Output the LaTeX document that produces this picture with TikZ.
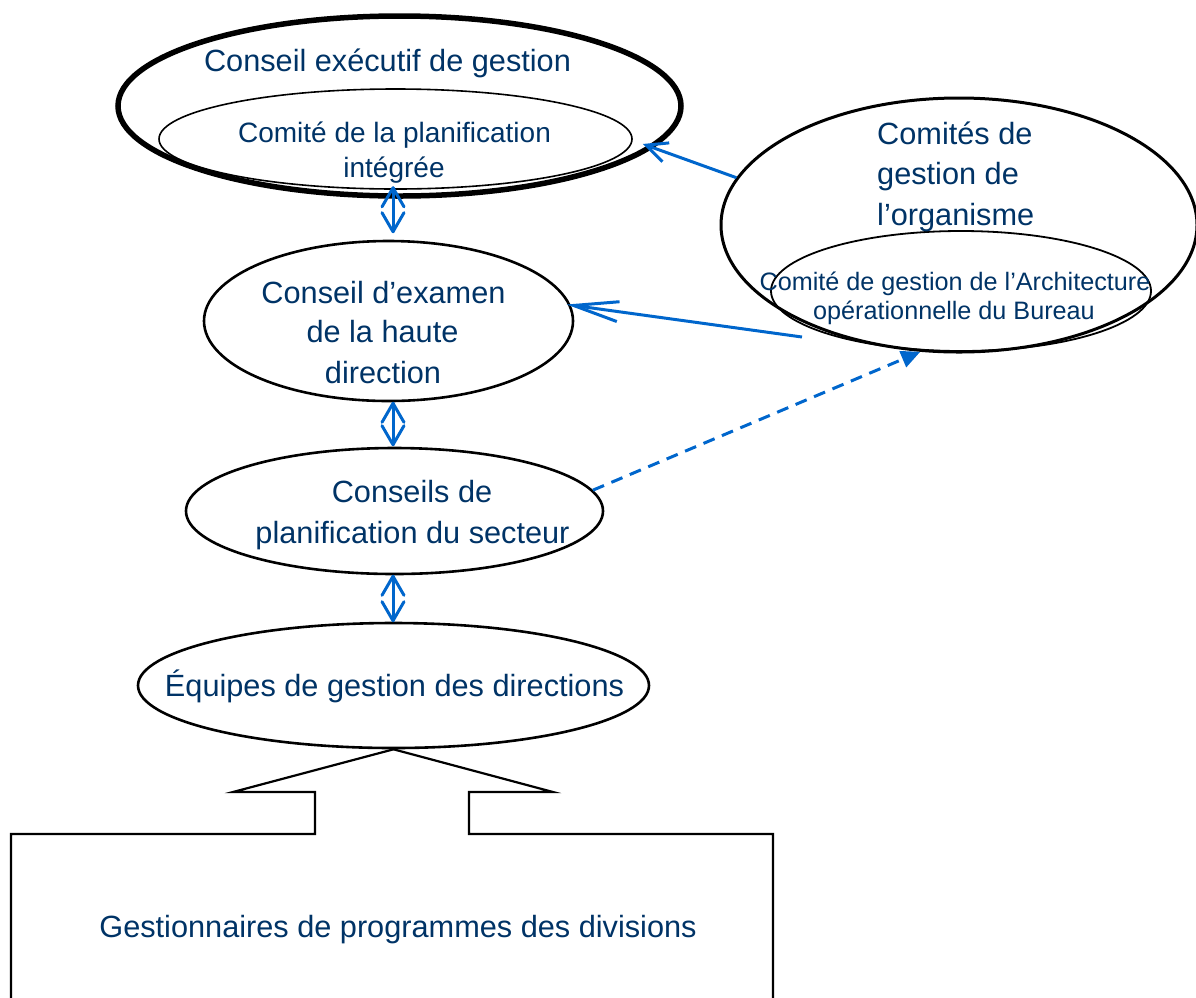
\documentclass[tikz,border=0pt]{standalone}
\usepackage{fontspec}
\setmainfont{Liberation Sans}
\usetikzlibrary{shapes.geometric,arrows.meta}
\definecolor{navy}{HTML}{003366}
\definecolor{linkblue}{HTML}{0066CC}
\tikzset{
  ell/.style={draw=black, ellipse, inner sep=0pt, line width=2.6pt},
  lbl/.style={text=navy, inner sep=0pt, anchor=base, font=\fontsize{30.7}{37}\selectfont},
  lblmid/.style={lbl, font=\fontsize{28}{34}\selectfont},
  lblsmall/.style={lbl, font=\fontsize{25.2}{30}\selectfont},
  dbl/.style={draw=linkblue, line width=3pt, line cap=round, line join=round},
  link/.style={draw=linkblue, line width=3pt},
}
\begin{document}
\begin{tikzpicture}[x=1pt,y=-1pt]
\useasboundingbox (0,0) rectangle (1196,997);
% ellipses
\node[ell, line width=5.5pt, minimum width=563pt, minimum height=180pt] (ceg) at (399.5,106) {};
\node[ell, line width=1.6pt, minimum width=473pt, minimum height=100pt] (cpi) at (395.5,139) {};
\node[ell, line width=3pt, minimum width=476pt, minimum height=254pt] (com) at (959,225) {};
\node[ell, line width=1.8pt, minimum width=380pt, minimum height=120pt] (caob) at (961,291) {};
\node[ell, minimum width=369pt, minimum height=160pt] (cehd) at (388.5,321) {};
\node[ell, minimum width=417pt, minimum height=126pt] (cps) at (394.5,511) {};
\node[ell, minimum width=511pt, minimum height=125pt] (egd) at (393.5,685.5) {};
% texts
\node[lbl] (t1) at (387.5,71) {Conseil exécutif de gestion};
\node[lblmid] (t2a) at (394.5,142) {Comité de la planification};
\node[lblmid] (t2b) at (394,177) {intégrée};
\node[lbl, anchor=base west] (t3a) at (877,144) {Comités de};
\node[lbl, anchor=base west] (t3b) at (877,184) {gestion de};
\node[lbl, anchor=base west] (t3c) at (877,225) {l’organisme};
\node[lblsmall] (t4a) at (955,290) {Comité de gestion de l’Architecture};
\node[lblsmall] (t4b) at (954,319) {opérationnelle du Bureau};
\node[lbl] (t5a) at (383.5,303) {Conseil d’examen};
\node[lbl] (t5b) at (382.5,342) {de la haute};
\node[lbl] (t5c) at (383,383) {direction};
\node[lbl] (t6a) at (412,502) {Conseils de};
\node[lbl] (t6b) at (412.5,543) {planification du secteur};
\node[lbl] (t7) at (394.5,696) {Équipes de gestion des directions};
\node[lbl] (t8) at (398,937) {Gestionnaires de programmes des divisions};
% vertical double arrows (open V heads at both ends)
\coordinate (axis) at (393,0);
\path (axis |- cpi.south) ++(0,-2) coordinate (a1t);
\path (axis |- cehd.north) ++(0,-8) coordinate (a1b);
\path (axis |- cehd.south) ++(0,1) coordinate (a2t);
\path (axis |- cps.north) ++(0,-2) coordinate (a2b);
\path (axis |- cps.south) ++(0,1) coordinate (a3t);
\path (axis |- egd.north) ++(0,-1) coordinate (a3b);
\foreach \t/\b in {a1t/a1b, a2t/a2b, a3t/a3b}{
  \draw[dbl] (\t) -- (\b);
  \draw[dbl] (\t) ++(-11,19) -- (\t) -- ++(11,19);
  \draw[dbl] (\b) ++(-11,-19) -- (\b) -- ++(11,-19);
}
% links from the organisation committees
\draw[link, -{Straight Barb[length=21pt,width=20pt]}] (com.168.6) -- ([xshift=10pt,yshift=-5pt]cpi.east);
\coordinate (l2s) at (802,337);
\draw[link, shorten >=-4pt, -{Straight Barb[length=45pt,width=20pt]}] (l2s) -- (cehd.5.6);
\draw[link, dash pattern=on 12pt off 8pt, -{Triangle[length=19pt,width=17pt]}] (cps.6) -- (com.-107);
% arrow-shaped box
\draw[line width=2.2pt, line join=miter] (11,1010) -- (11,834) -- (315,834) -- (315,792) -- (233,792)
  -- (egd.south) -- (553,792) -- (469,792) -- (469,834) -- (773,834) -- (773,1010);
\end{tikzpicture}
\end{document}
